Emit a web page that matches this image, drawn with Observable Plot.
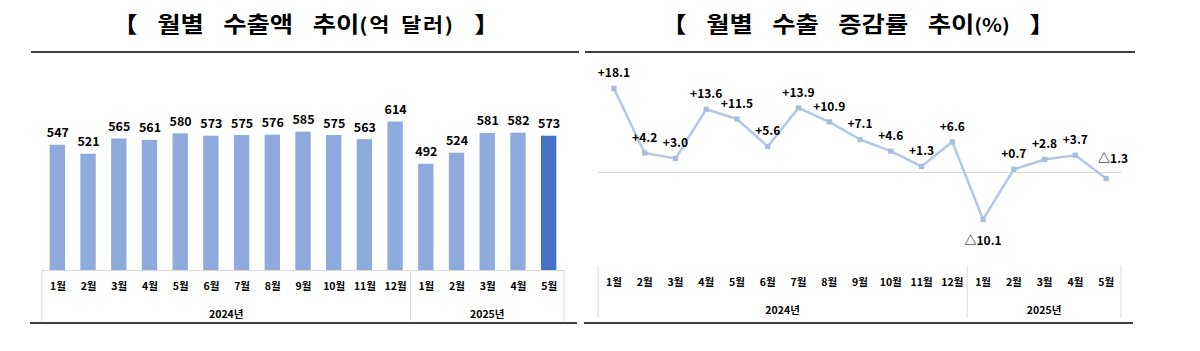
<!DOCTYPE html>
<html><head><meta charset="utf-8">
<script src="https://cdn.jsdelivr.net/npm/d3@7"></script>
<script src="https://cdn.jsdelivr.net/npm/@observablehq/plot@0.6"></script>
<style>
body{margin:0;background:#fff;}
#wrap{position:relative;width:1200px;height:351px;overflow:hidden;font-family:"Noto Sans CJK KR","Noto Sans",sans-serif;}
.title{position:absolute;top:6px;font-weight:bold;font-size:22px;line-height:32px;color:#000;white-space:nowrap;word-spacing:12px;transform:translateX(-50%) scaleX(1.15);}
.title small{font-size:18px;font-weight:bold;word-spacing:0;}
#t1 small{font-size:19px;letter-spacing:1.5px;word-spacing:3px;}
.rule{position:absolute;height:2px;background:#404040;}
.chart{position:absolute;top:60px;}
</style></head><body>
<div id="wrap">
  <div id="t1" class="title" style="left:306px">【 월별 수출액 추이<small>(억 달러)</small> 】</div>
  <div id="t2" class="title" style="left:858px">【 월별 수출 증감률 추이<small>(%)</small> 】</div>
  <div class="rule" style="left:31px;width:548px;top:51px"></div>
  <div class="rule" style="left:585px;width:550px;top:51px"></div>
  <div class="rule" style="left:30px;width:547px;top:322px"></div>
  <div class="rule" style="left:584px;width:549px;top:322px"></div>
  <div id="left" class="chart" style="left:0px"></div>
  <div id="right" class="chart" style="left:580px"></div>
</div>
<script>
// ---- data ----
const months = ["1월","2월","3월","4월","5월","6월","7월","8월","9월","10월","11월","12월","1월","2월","3월","4월","5월"];
const years = [2024,2024,2024,2024,2024,2024,2024,2024,2024,2024,2024,2024,2025,2025,2025,2025,2025];
const yearLabels = {2024:"2024년", 2025:"2025년"};
const exportValues = [547,521,565,561,580,573,575,576,585,575,563,614,492,524,581,582,573]; // 억 달러
const growthRates = [18.1,4.2,3.0,13.6,11.5,5.6,13.9,10.9,7.1,4.6,1.3,6.6,-10.1,0.7,2.8,3.7,-1.3]; // %

const keys = months.map((m, i) => years[i] + "-" + m);
const expRows = keys.map((k, i) => ({key: k, month: months[i], year: years[i], value: exportValues[i], last: i === keys.length - 1}));
const grRows = keys.map((k, i) => ({key: k, month: months[i], year: years[i], value: growthRates[i], i}));
const fmtGrowth = v => (v >= 0 ? "+" : "△") + Math.abs(v).toFixed(1);
const FONT = '"Noto Sans CJK KR","Noto Sans",sans-serif';
const GRID = "#d9d9d9";

function addTable(svg, plot, tableH, yearDy) {
  const x = plot.scale("x"), y = plot.scale("y");
  const bw = x.bandwidth;
  const r = x.range;
  const n = x.domain.length;
  const step = x.step ?? (r[1] - r[0]) / (n - (x.paddingInner ?? 0) + 2 * (x.paddingOuter ?? 0));
  const gap = step - bw;
  const y0 = y.range[0];
  const g = d3.select(svg).append("g");
  const firstIdx = {}, lastIdx = {};
  years.forEach((yr, i) => { if (firstIdx[yr] === undefined) firstIdx[yr] = i; lastIdx[yr] = i; });
  const sepXs = [r[0], r[1]];
  Object.keys(firstIdx).forEach(yr => { if (firstIdx[yr] > 0) sepXs.push(x.apply(keys[firstIdx[yr]]) - gap / 2); });
  g.selectAll("line.v").data(sepXs).join("line")
    .attr("x1", d => d).attr("x2", d => d).attr("y1", y0).attr("y2", y0 + tableH)
    .attr("stroke", GRID).attr("stroke-width", 1);
  g.selectAll("text.yr").data(Object.keys(firstIdx)).join("text")
    .attr("x", yr => (x.apply(keys[firstIdx[yr]]) + x.apply(keys[lastIdx[yr]]) + bw) / 2)
    .attr("y", y0 + yearDy).attr("dy", "0.35em").attr("text-anchor", "middle")
    .attr("font-family", FONT).attr("font-weight", "bold").attr("font-size", 10.5).attr("fill", "#000")
    .text(yr => yearLabels[yr]);
}

// ---- left: 월별 수출액 ----
const leftPlot = Plot.plot({
  width: 600, height: 280,
  marginLeft: 42, marginRight: 36, marginTop: 11, marginBottom: 70,
  x: {type: "band", domain: keys, paddingInner: 0.5, paddingOuter: 0.25, round: false, axis: null},
  y: {domain: [185, 760], clamp: true, axis: null},
  style: {fontFamily: FONT, overflow: "visible", background: "transparent"},
  marks: [
    Plot.barY(expRows, {x: "key", y: "value", fill: d => d.last ? "#4472c4" : "#8faadc"}),
    Plot.ruleY([185], {stroke: GRID, strokeWidth: 1}),
    Plot.text(expRows, {x: "key", y: "value", text: d => String(d.value), dy: -12, fontWeight: "bold", fontSize: 12.5, fill: "#000"}),
    Plot.text(expRows, {x: "key", text: "month", frameAnchor: "bottom", dy: 19, fontWeight: "bold", fontSize: 10.5, fill: "#000"})
  ]
});
addTable(leftPlot, leftPlot, 51, 44);
document.getElementById("left").append(leftPlot);

// ---- right: 월별 수출 증감률 ----
const minIdx = growthRates.indexOf(Math.min(...growthRates));
const lastIdx = growthRates.length - 1;
const rightPlot = Plot.plot({
  width: 600, height: 280,
  marginLeft: 18, marginRight: 59, marginTop: 10, marginBottom: 75,
  x: {type: "band", domain: keys, padding: 0, round: false, axis: null},
  y: {domain: [-20, 21.94], axis: null},
  style: {fontFamily: FONT, overflow: "visible", background: "transparent"},
  marks: [
    Plot.ruleY([0], {stroke: GRID, strokeWidth: 1.2}),
    Plot.line(grRows, {x: "key", y: "value", stroke: "#b4c7e7", strokeWidth: 2.5}),
    Plot.dot(grRows, {x: "key", y: "value", symbol: "square", r: 3, fill: "#a9bde0"}),
    Plot.text(grRows.filter(d => d.i !== minIdx && d.i !== lastIdx), {x: "key", y: "value", text: d => fmtGrowth(d.value), dy: -15, fontWeight: "bold", fontSize: 12, fill: "#000"}),
    Plot.text(grRows.filter(d => d.i === minIdx), {x: "key", y: "value", text: d => fmtGrowth(d.value), dy: 22, fontWeight: "bold", fontSize: 12, fill: "#000"}),
    Plot.text(grRows.filter(d => d.i === lastIdx), {x: "key", y: "value", text: d => fmtGrowth(d.value), dy: -19, dx: 7, fontWeight: "bold", fontSize: 12, fill: "#000"}),
    Plot.text(grRows, {x: "key", text: "month", frameAnchor: "bottom", dy: 20, fontWeight: "bold", fontSize: 10.5, fill: "#000"})
  ]
});
addTable(rightPlot, rightPlot, 53, 45);
document.getElementById("right").append(rightPlot);
</script>
</body></html>
